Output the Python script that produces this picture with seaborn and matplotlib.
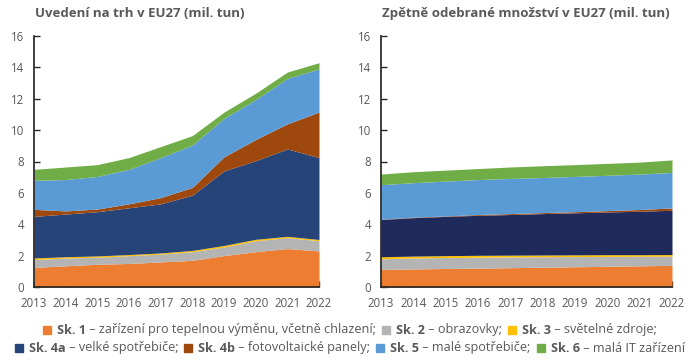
import matplotlib
matplotlib.use("Agg")
import matplotlib.pyplot as plt
import seaborn as sns
from matplotlib.patches import Rectangle

# Data (cumulative tops, converted to layers below)
years = [2013, 2014, 2015, 2016, 2017, 2018, 2019, 2020, 2021, 2022]

# Uvedení na trh (cumulative tops)
put_sk1 = [1.25, 1.35, 1.45, 1.50, 1.60, 1.70, 2.00, 2.25, 2.45, 2.30]
put_sk2 = [1.75, 1.85, 1.90, 2.00, 2.10, 2.25, 2.55, 2.95, 3.15, 2.95]
put_sk3 = [1.85, 1.93, 1.98, 2.07, 2.17, 2.33, 2.65, 3.04, 3.23, 3.03]
put_sk4a = [4.50, 4.65, 4.80, 5.05, 5.30, 5.85, 7.40, 8.05, 8.80, 8.25]
put_sk4b = [4.95, 4.85, 4.97, 5.30, 5.70, 6.35, 8.30, 9.40, 10.40, 11.15]
put_sk5 = [6.80, 6.85, 7.05, 7.50, 8.25, 9.05, 10.75, 11.95, 13.30, 13.90]
put_sk6 = [7.50, 7.65, 7.80, 8.25, 8.95, 9.65, 11.15, 12.35, 13.70, 14.30]

# Zpětně odebrané množství (cumulative tops)
col_sk1 = [1.12, 1.15, 1.18, 1.20, 1.23, 1.26, 1.29, 1.32, 1.35, 1.38]
col_sk2 = [1.80, 1.85, 1.88, 1.90, 1.92, 1.93, 1.94, 1.95, 1.96, 1.97]
col_sk3 = [1.93, 1.97, 2.00, 2.02, 2.03, 2.04, 2.05, 2.06, 2.06, 2.07]
col_sk4a = [4.30, 4.42, 4.50, 4.57, 4.62, 4.68, 4.73, 4.78, 4.83, 4.89]
col_sk4b = [4.32, 4.45, 4.53, 4.62, 4.68, 4.74, 4.80, 4.87, 4.94, 5.04]
col_sk5 = [6.52, 6.65, 6.75, 6.85, 6.92, 6.98, 7.05, 7.12, 7.20, 7.30]
col_sk6 = [7.20, 7.35, 7.45, 7.55, 7.65, 7.73, 7.80, 7.88, 7.96, 8.10]

titles = ["Uvedení na trh v EU27 (mil. tun)", "Zpětně odebrané množství v EU27 (mil. tun)"]
group_names = ["Sk. 1", "Sk. 2", "Sk. 3", "Sk. 4a", "Sk. 4b", "Sk. 5", "Sk. 6"]
group_desc = ["zařízení pro tepelnou výměnu, včetně chlazení", "obrazovky", "světelné zdroje",
              "velké spotřebiče", "fotovoltaické panely", "malé spotřebiče", "malá IT zařízení"]

colors_left = ["#ED7D31", "#B4B4B4", "#FFC000", "#264478", "#9E480E", "#5B9BD5", "#70AD47"]
colors_right = ["#ED7D31", "#B4B4B4", "#FFC000", "#1F2A5C", "#9E480E", "#5B9BD5", "#70AD47"]


def layers(tops):
    out = [tops[0]]
    for lo, hi in zip(tops[:-1], tops[1:]):
        out.append([h - l for l, h in zip(lo, hi)])
    return out


sns.set_theme(style="ticks")
plt.rcParams["font.family"] = ["Open Sans", "DejaVu Sans"]
grey = "#595959"

fig = plt.figure(figsize=(7, 3.61), dpi=100)
ax1 = fig.add_axes([34 / 700, 1 - 287 / 361, 285 / 700, 251 / 361])
ax2 = fig.add_axes([381 / 700, 1 - 287 / 361, 291 / 700, 251 / 361])

data = [
    layers([put_sk1, put_sk2, put_sk3, put_sk4a, put_sk4b, put_sk5, put_sk6]),
    layers([col_sk1, col_sk2, col_sk3, col_sk4a, col_sk4b, col_sk5, col_sk6]),
]

for ax, d, cols, title in zip([ax1, ax2], data, [colors_left, colors_right], titles):
    ax.stackplot(years, *d, colors=cols, linewidth=0)
    ax.set_xlim(2013, 2022)
    ax.set_ylim(0, 16)
    ax.set_xticks(years)
    ax.set_yticks(range(0, 17, 2))
    ax.tick_params(direction="in", length=4, width=1, colors="#262626",
                   labelcolor=grey, labelsize=8.3)
    ax.tick_params(axis="x", pad=7)
    ax.tick_params(axis="y", pad=7)
    sns.despine(ax=ax)
    ax.spines["left"].set_color("#262626")
    ax.spines["bottom"].set_color("#262626")
    ax.set_title(title, loc="left", fontsize=9.5, fontweight="bold", color=grey, pad=14, x=0.005)

# Legend in two rows with bold group names
fig.canvas.draw()
renderer = fig.canvas.get_renderer()
rows = [[0, 1, 2], [3, 4, 5, 6]]
row_y = [330, 348]
fs = 9.1
sq = 8
for r, ypix in zip(rows, row_y):
    parts = []
    for k, i in enumerate(r):
        end = ";" if (i != 6) else ""
        parts.append(("sq", colors_left[i], 0))
        parts.append(("b", group_names[i], 3))
        parts.append(("n", " – " + group_desc[i] + end, 0))
        if k < len(r) - 1:
            parts.append(("gap", None, 6))
    texts = []
    total = 0
    for kind, val, pre in parts:
        if kind == "sq":
            total += sq + 3
            texts.append(None)
        elif kind == "gap":
            total += pre
            texts.append(None)
        else:
            t = fig.text(0, 0, val, fontsize=fs, color=grey,
                         fontweight="bold" if kind == "b" else "normal")
            w = t.get_window_extent(renderer).width
            texts.append((t, w))
            total += w + pre
    x = (700 - total) / 2
    yf = 1 - ypix / 361
    for (kind, val, pre), tw in zip(parts, texts):
        if kind == "sq":
            fig.patches.append(Rectangle((x / 700, yf - sq / 2 / 361), sq / 700, sq / 361,
                                         transform=fig.transFigure, color=val))
            x += sq + 3
        elif kind == "gap":
            x += pre
        else:
            t, w = tw
            x += pre
            t.set_position((x / 700, yf))
            t.set_va("center")
            x += w

fig.savefig("out.png", dpi=100)
